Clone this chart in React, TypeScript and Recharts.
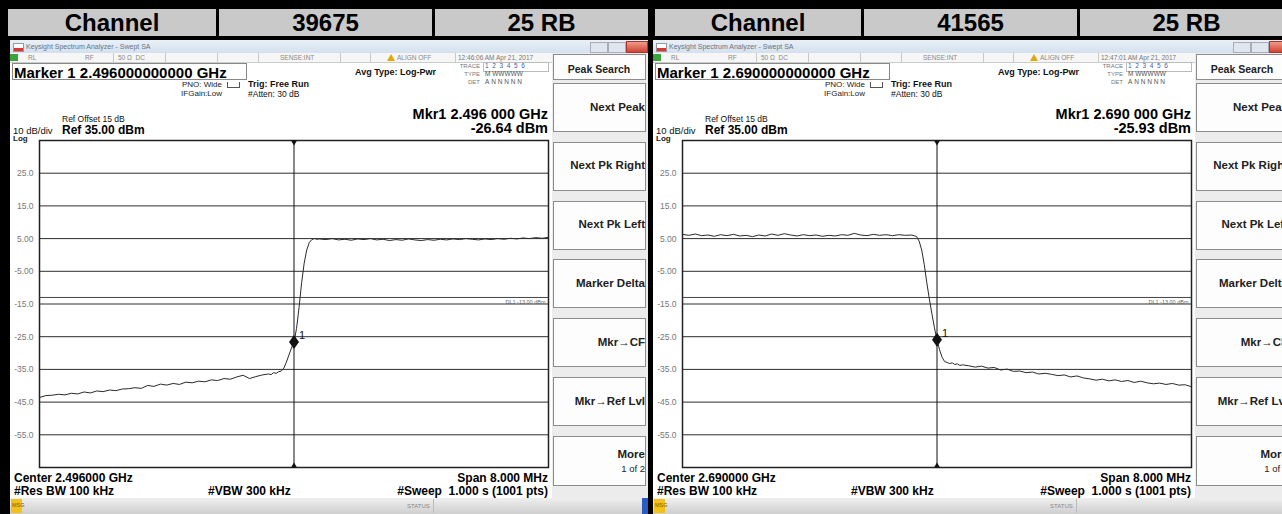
import React from 'react';
import { LineChart, Line, XAxis, YAxis, CartesianGrid, ReferenceLine, ReferenceDot, ReferenceArea } from 'recharts';

// sweep points, MHz from the centre frequency (denser around the band edge)
const sweepOffsetsMHz = [
  -4.0, -3.9, -3.8, -3.7, -3.6, -3.5, -3.4, -3.3, -3.2, -3.1, -3.0, -2.9, -2.8, -2.7, -2.6, -2.5, -2.4, -2.3,
  -2.2, -2.1, -2.0, -1.9, -1.8, -1.7, -1.6, -1.5, -1.4, -1.3, -1.2, -1.1, -1.0, -0.9, -0.8, -0.7, -0.6, -0.5,
  -0.4, -0.36, -0.32, -0.28, -0.24, -0.2, -0.16, -0.12, -0.08, -0.04, 0, 0.04, 0.08, 0.12, 0.16, 0.2, 0.24,
  0.28, 0.32, 0.36, 0.4,
  0.5, 0.6, 0.7, 0.8, 0.9, 1.0, 1.1, 1.2, 1.3, 1.4, 1.5, 1.6, 1.7, 1.8, 1.9, 2.0, 2.1, 2.2, 2.3, 2.4, 2.5,
  2.6, 2.7, 2.8, 2.9, 3.0, 3.1, 3.2, 3.3, 3.4, 3.5, 3.6, 3.7, 3.8, 3.9, 4.0,
];

// dBm, channel 39675 (lower band edge, 2.496 GHz)
const levelsCh39675 = [
  -43.6, -43.0, -42.9, -42.6, -42.8, -42.3, -42.5, -41.9, -42.2, -41.6, -41.8, -41.3, -41.5, -41.0, -40.9, -40.6, -40.8, -39.9,
  -40.2, -39.5, -39.8, -39.3, -39.6, -38.9, -39.1, -38.6, -38.8, -38.2, -38.4, -37.8, -38.0, -37.3, -36.8, -37.8, -37.2, -36.7,
  -36.4, -36.6, -36.0, -36.2, -35.7, -35.5, -34.6, -32.8, -30.6, -28.5, -26.64, -22.5, -16.0, -8.5, -2.5, 1.5, 3.8,
  4.7, 5.0, 4.8, 4.9,
  4.7, 5.0, 4.6, 4.8, 4.5, 4.9, 4.7, 5.0, 4.6, 4.8, 4.4, 4.7, 4.5, 4.9, 4.6, 4.4, 4.7, 4.5, 4.8, 4.6, 4.9,
  4.7, 5.0, 4.8, 4.6, 4.9, 4.7, 5.0, 4.8, 5.1, 4.9, 5.2, 5.0, 5.3, 5.1, 5.4,
];

// dBm, channel 41565 (upper band edge, 2.690 GHz)
const levelsCh41565 = [
  6.3, 6.0, 6.4, 5.9, 6.1, 5.7, 6.2, 5.9, 6.3, 5.8, 6.0, 5.6, 6.1, 5.8, 6.4, 6.0, 6.5, 6.1,
  5.8, 6.2, 5.9, 6.1, 5.7, 6.0, 5.8, 6.2, 6.0, 6.6, 6.1, 5.9, 6.3, 6.0, 6.2, 5.9, 6.2, 6.0,
  6.1, 5.9, 5.6, 4.2, 1.5, -3.0, -8.5, -13.5, -18.0, -22.3, -25.93, -29.0, -31.3, -32.6, -32.9, -33.2, -33.0,
  -33.5, -33.3, -33.8, -33.6,
  -33.9, -34.3, -34.0, -34.6, -34.4, -35.2, -34.9, -35.6, -35.5, -36.0, -35.8, -36.4, -36.2, -36.5, -36.9, -36.7, -37.3,
  -37.0, -37.6, -37.9, -38.3, -38.0, -38.5, -38.2, -38.7, -38.4, -39.0, -38.6, -39.1, -39.4, -39.2, -39.6, -39.3, -39.8,
  -39.7, -40.3,
];

const yTicks = [35, 25, 15, 5, -5, -15, -25, -35, -45, -55, -65];
const xTicks = [-4, -3.2, -2.4, -1.6, -0.8, 0, 0.8, 1.6, 2.4, 3.2, 4];
const displayLine = -13;
const softKeys = ['Next Peak', 'Next Pk Right', 'Next Pk Left', 'Marker Delta', 'Mkr\u2192CF', 'Mkr\u2192Ref Lvl'];

const headerLabels = ['Channel', '39675', '25 RB', 'Channel', '41565', '25 RB'];

const FONT = '"Liberation Sans", Arial, sans-serif';

function T({ x, y, s, b, c = '#000', right, children }: any) {
  const base: React.CSSProperties = {
    position: 'absolute',
    top: y,
    fontSize: s,
    fontWeight: b ? 700 : 400,
    color: c,
    lineHeight: 1,
    whiteSpace: 'nowrap',
  };
  if (right) return <div style={{ ...base, left: x - 400, width: 400, textAlign: 'right' }}>{children}</div>;
  return <div style={{ ...base, left: x }}>{children}</div>;
}

const DbTick = (props: any) => {
  const { x, y, payload } = props;
  const v = payload.value;
  if (v >= 35 || v <= -65) return <g />;
  const txt = Math.abs(v) < 10 ? v.toFixed(2) : v.toFixed(1);
  return (
    <text x={x} y={y} dy={3} textAnchor="end" fontSize={8.5} fill="#777" fontFamily={FONT}>
      {txt}
    </text>
  );
};

const Diamond = (p: any) => (
  <g>
    <polygon points={`${p.cx},${p.cy - 7} ${p.cx + 5},${p.cy} ${p.cx},${p.cy + 7} ${p.cx - 5},${p.cy}`} fill="#111" />
    <text x={p.cx + 5} y={p.cy - 3} fontSize={11} fill="#111" fontFamily={FONT}>1</text>
  </g>
);
const TriDown = (p: any) => (
  <polygon points={`${p.cx - 3},${p.cy} ${p.cx + 3},${p.cy} ${p.cx},${p.cy + 5}`} fill="#111" />
);
const TriUp = (p: any) => (
  <polygon points={`${p.cx - 3},${p.cy} ${p.cx + 3},${p.cy} ${p.cx},${p.cy - 5}`} fill="#111" />
);

function Analyzer({ left, center, markerLong, mkrFreq, mkrLevel, time, levels }: any) {
  const data = sweepOffsetsMHz.map((f, i) => ({ f, level: levels[i] }));
  return (
    <div style={{ position: 'absolute', left, top: 40, width: 638, height: 474, background: '#fff', overflow: 'hidden' }}>
      {/* window title bar */}
      <div style={{ position: 'absolute', left: 0, top: 0, width: 638, height: 13, background: 'linear-gradient(#eaf0f8, #d4e0ef)' }} />
      <div style={{ position: 'absolute', left: 3, top: 3, width: 9, height: 7, background: 'linear-gradient(#fff 50%, #d33 50%)', border: '1px solid #999' }} />
      <T x={16} y={3} s={7} c="#6a7380">Keysight Spectrum Analyzer - Swept SA</T>
      <div style={{ position: 'absolute', left: 580, top: 2, width: 16, height: 9, background: '#dfe6ef', border: '1px solid #aab' }} />
      <div style={{ position: 'absolute', left: 598, top: 2, width: 16, height: 9, background: '#dfe6ef', border: '1px solid #aab' }} />
      <div style={{ position: 'absolute', left: 616, top: 1, width: 20, height: 10, background: 'linear-gradient(#f09a8a, #cf4433)', border: '1px solid #a33' }} />

      {/* status row */}
      <div style={{ position: 'absolute', left: 0, top: 13, width: 542, height: 9, background: '#f6f6f6', borderBottom: '1px solid #ccc' }} />
      <div style={{ position: 'absolute', left: 0, top: 14, width: 8, height: 7, background: '#3aa53a' }} />
      {[103, 155, 207, 248, 330, 360, 445].map((sx) => (
        <div key={sx} style={{ position: 'absolute', left: sx, top: 13, width: 1, height: 9, background: '#c8c8c8' }} />
      ))}
      <T x={18} y={14.5} s={6.5} c="#888">RL</T>
      <T x={75} y={14.5} s={6.5} c="#888">RF</T>
      <T x={108} y={14.5} s={6.5} c="#888">50 Ω&nbsp;&nbsp;DC</T>
      <T x={270} y={14.5} s={6.5} c="#888">SENSE:INT</T>
      <div style={{ position: 'absolute', left: 377, top: 14, width: 0, height: 0, borderLeft: '4px solid transparent', borderRight: '4px solid transparent', borderBottom: '7px solid #e0a800' }} />
      <T x={387} y={14.5} s={6.5} c="#888">ALIGN OFF</T>
      <T x={448} y={14.5} s={6.5} c="#777">{time}</T>

      {/* marker readout box */}
      <div style={{ position: 'absolute', left: 2, top: 23, width: 233, height: 15, border: '1px solid #888', background: '#fff' }} />
      <T x={4} y={24.5} s={15} b>{markerLong}</T>
      <T x={212} y={41} s={8} right c="#222">PNO: Wide</T>
      <T x={212} y={50} s={8} right c="#222">IFGain:Low</T>
      <div style={{ position: 'absolute', left: 217, top: 42, width: 11, height: 5, border: '1px solid #555', borderTop: 'none' }} />
      <T x={238} y={40} s={9} b c="#111">Trig: Free Run</T>
      <T x={238} y={50} s={8.5} c="#111">#Atten: 30 dB</T>
      <T x={345} y={28} s={9} b c="#111">Avg Type: Log-Pwr</T>
      <T x={470} y={23} s={6} right c="#777">TRACE</T>
      <div style={{ position: 'absolute', left: 473, top: 22, width: 64, height: 8, border: '1px solid #bbb' }} />
      <T x={475} y={23} s={6.5} c="#3b5fa8">1&nbsp;&nbsp;2&nbsp;&nbsp;3&nbsp;&nbsp;4&nbsp;&nbsp;5&nbsp;&nbsp;6</T>
      <T x={470} y={31} s={6} right c="#777">TYPE</T>
      <T x={475} y={31} s={6.5} c="#555">M WWWWW</T>
      <T x={470} y={39} s={6} right c="#777">DET</T>
      <T x={475} y={39} s={6.5} c="#555">A&nbsp;N&nbsp;N&nbsp;N&nbsp;N&nbsp;N</T>

      <T x={538} y={66.5} s={14.5} b right>{mkrFreq}</T>
      <T x={538} y={81} s={14.5} b right>{mkrLevel.toFixed(2)} dBm</T>
      <T x={52} y={75} s={8.5} c="#111">Ref Offset 15 dB</T>
      <T x={3} y={86} s={9.5} c="#111">10 dB/div</T>
      <T x={52} y={84} s={12} b>Ref 35.00 dBm</T>
      <T x={3} y={94.5} s={8} b c="#222">Log</T>

      {/* plot */}
      <div style={{ position: 'absolute', left: 0, top: 95 }}>
        <LineChart width={545} height={335} data={data} margin={{ top: 5.5, right: 6.5, bottom: 2.5, left: 0 }}>
          <CartesianGrid stroke="#2e2e2e" strokeWidth={1} />
          <XAxis dataKey="f" type="number" domain={[-4, 4]} ticks={xTicks} tick={false} axisLine={false} tickLine={false} height={0} />
          <YAxis type="number" domain={[-65, 35]} ticks={yTicks} width={29.5} axisLine={false} tickLine={false} tickSize={0} tickMargin={6} tick={<DbTick />} interval={0} />
          <ReferenceArea x1={-4} x2={4} y1={-65} y2={35} fill="none" stroke="#222" strokeWidth={1.5} />
          <ReferenceLine y={displayLine} stroke="#444" strokeWidth={1}
            label={{ value: 'DL1 -13.00 dBm', position: 'insideTopRight', fontSize: 5.5, fill: '#666', offset: 3 }} />
          <ReferenceLine x={0} stroke="#111" strokeWidth={1} />
          <Line type="linear" dataKey="level" stroke="#2a2a2a" strokeWidth={1} dot={false} isAnimationActive={false} />
          <ReferenceDot x={0} y={35} r={0} shape={TriDown} />
          <ReferenceDot x={0} y={-65} r={0} shape={TriUp} />
          <ReferenceDot x={0} y={mkrLevel} r={0} shape={Diamond} />
        </LineChart>
      </div>

      <T x={4} y={432} s={12} b>Center {center} GHz</T>
      <T x={4} y={445} s={12} b>#Res BW 100 kHz</T>
      <T x={198} y={445} s={12} b>#VBW 300 kHz</T>
      <T x={538} y={432} s={12} b right>Span 8.000 MHz</T>
      <T x={538} y={445} s={12} b right>#Sweep&nbsp;&nbsp;1.000 s (1001 pts)</T>

      {/* soft keys */}
      <div style={{ position: 'absolute', left: 542, top: 13, width: 96, height: 445, background: '#ececec' }} />
      <div style={{ position: 'absolute', left: 543, top: 14, width: 93, height: 26, background: '#fdfdfd', border: '1px solid #8c8c8c', boxSizing: 'border-box' }} />
      <T x={589} y={24} s={10.5} b c="#222"><span style={{ display: 'block', transform: 'translateX(-50%)' }}>Peak Search</span></T>
      {softKeys.map((k, i) => {
        const top = 43 + i * 58.8;
        return (
          <React.Fragment key={k}>
            <div style={{ position: 'absolute', left: 543, top, width: 93, height: 49, background: '#fdfdfd', border: '1px solid #8c8c8c', boxSizing: 'border-box' }} />
            <T x={635} y={top + 18.5} s={11.5} b c="#222" right>{k}</T>
          </React.Fragment>
        );
      })}
      <div style={{ position: 'absolute', left: 543, top: 396, width: 93, height: 50, background: '#fdfdfd', border: '1px solid #8c8c8c', boxSizing: 'border-box' }} />
      <T x={635} y={409} s={11.5} b c="#222" right>More</T>
      <T x={635} y={424} s={9.5} c="#222" right>1 of 2</T>

      {/* bottom status bar */}
      <div style={{ position: 'absolute', left: 0, top: 458, width: 638, height: 16, background: 'linear-gradient(#efefef, #cfcfcf)' }} />
      <div style={{ position: 'absolute', left: 1, top: 459, width: 11, height: 14, background: '#f2c21b' }} />
      <T x={2} y={463} s={5.5} c="#7a5a00">MSG</T>
      <T x={397} y={463} s={6} c="#888">STATUS</T>
      <div style={{ position: 'absolute', left: 423, top: 459, width: 1, height: 14, background: '#bbb' }} />
      <div style={{ position: 'absolute', left: 632, top: 458, width: 6, height: 16, background: '#2a5cc4' }} />
    </div>
  );
}

export default function App() {
  const cellLefts = [8, 219, 435, 655, 864, 1080];
  const cellWidths = [208, 213, 213, 206, 213, 213];
  return (
    <div style={{ position: 'absolute', left: 0, top: 0, width: 1282, height: 514, background: '#000', overflow: 'hidden', fontFamily: FONT }}>
      {headerLabels.map((h, i) => (
        <div key={i} style={{
          position: 'absolute', left: cellLefts[i], top: 9, width: cellWidths[i], height: 27, background: '#c9c9c9',
          fontSize: 24, fontWeight: 700, lineHeight: '27px', textAlign: 'center', color: '#000',
        }}>{h}</div>
      ))}
      <Analyzer left={10} center="2.496000" markerLong="Marker 1 2.496000000000 GHz" mkrFreq="Mkr1 2.496 000 GHz"
        mkrLevel={-26.64} time="12:46:06 AM Apr 21, 2017" levels={levelsCh39675} />
      <Analyzer left={653} center="2.690000" markerLong="Marker 1 2.690000000000 GHz" mkrFreq="Mkr1 2.690 000 GHz"
        mkrLevel={-25.93} time="12:47:01 AM Apr 21, 2017" levels={levelsCh41565} />
    </div>
  );
}
